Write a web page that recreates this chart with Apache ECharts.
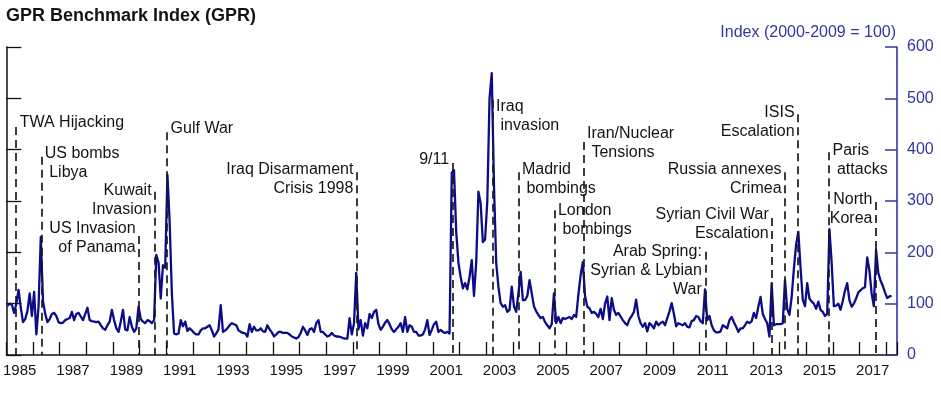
<!DOCTYPE html>
<html>
<head>
<meta charset="utf-8">
<script src="https://cdn.jsdelivr.net/npm/echarts@6/dist/echarts.min.js"></script>
<style>html,body{margin:0;padding:0;background:#fff}#c{width:941px;height:393px}</style>
</head>
<body>
<div id="c"></div>
<script>
// ---- data ----
const startYear = 1985;
// monthly GPR index, Jan 1985 onward
const gprValues = [
  96, 100, 98, 82, 100, 127, 92, 64, 70, 86, 120, 76,      // 1985
  123, 40, 95, 230, 105, 80, 64, 70, 80, 82, 76, 64,       // 1986
  62, 63, 68, 70, 72, 84, 68, 80, 82, 75, 68, 80,          // 1987
  92, 68, 66, 65, 64, 65, 58, 52, 49, 58, 65, 88,          // 1988
  68, 52, 45, 65, 88, 50, 48, 74, 55, 45, 52, 94,          // 1989
  70, 65, 62, 68, 66, 62, 68, 195, 180, 110, 175, 170,     // 1990
  351, 260, 120, 42, 40, 42, 68, 56, 65, 47, 52, 48,       // 1991
  43, 40, 40, 48, 52, 52, 55, 58, 48, 36, 42, 50,          // 1992
  97, 45, 48, 52, 58, 62, 60, 58, 48, 45, 43, 42,          // 1993
  36, 60, 45, 55, 48, 48, 52, 46, 45, 58, 50, 44,          // 1994
  36, 40, 45, 45, 43, 43, 43, 40, 36, 34, 32, 35,          // 1995
  43, 55, 48, 39, 50, 52, 45, 62, 68, 45, 45, 40,          // 1996
  36, 38, 43, 38, 36, 36, 35, 33, 32, 32, 72, 40,          // 1997
  62, 160, 50, 68, 38, 62, 52, 80, 72, 84, 88, 60,         // 1998
  49, 55, 63, 68, 60, 50, 45, 50, 55, 62, 45, 74,          // 1999
  45, 58, 55, 45, 45, 38, 38, 40, 50, 68, 39, 49,          // 2000
  60, 65, 45, 49, 45, 43, 45, 42, 355, 360, 240, 180,      // 2001
  152, 130, 140, 128, 152, 185, 115, 180, 318, 295, 220, 225, // 2002
  300, 500, 549, 330, 180, 133, 101, 94, 97, 84, 88, 133,  // 2003
  95, 84, 120, 162, 107, 107, 115, 146, 120, 95, 85, 78,   // 2004
  72, 74, 64, 58, 52, 60, 120, 62, 74, 62, 72, 70,         // 2005
  72, 74, 70, 78, 74, 118, 155, 181, 115, 94, 91, 82,      // 2006
  84, 80, 74, 90, 70, 100, 114, 68, 111, 88, 78, 82,       // 2007
  75, 68, 62, 58, 70, 76, 84, 108, 76, 62, 55, 62,         // 2008
  46, 62, 58, 52, 65, 58, 62, 65, 58, 72, 85, 101,         // 2009
  80, 56, 62, 60, 58, 62, 55, 54, 66, 68, 76, 74,          // 2010
  66, 62, 128, 68, 76, 58, 48, 44, 44, 46, 58, 55,         // 2011
  52, 68, 74, 64, 55, 45, 52, 52, 58, 65, 62, 66,          // 2012
  82, 72, 94, 113, 80, 70, 62, 36, 140, 58, 60, 60,        // 2013
  60, 62, 146, 90, 78, 113, 168, 215, 240, 170, 108, 95,   // 2014
  140, 110, 104, 100, 90, 104, 88, 84, 76, 80, 245, 180,   // 2015
  95, 96, 100, 88, 105, 125, 140, 107, 94, 100, 110, 122,  // 2016
  126, 130, 132, 190, 165, 120, 95, 205, 160, 145, 135, 122, // 2017
  111, 114, 115                                            // 2018
];
const tickYears = [1985, 1987, 1989, 1991, 1993, 1995, 1997, 1999, 2001, 2003, 2005, 2007, 2009, 2011, 2013, 2015, 2017];
const yTicks = [0, 100, 200, 300, 400, 500, 600];

const eventLabels = [
  'TWA Hijacking', 'US bombs\n Libya', 'US Invasion\nof Panama', 'Kuwait\nInvasion', 'Gulf War',
  'Iraq Disarmament\nCrisis 1998', '9/11', 'Iraq\n invasion', 'Madrid\n bombings', 'London\n bombings',
  'Iran/Nuclear\n Tensions', 'Arab Spring:\nSyrian & Lybian\nWar', 'Syrian Civil War\nEscalation',
  'Russia annexes\nCrimea', 'ISIS\nEscalation', 'Paris\n attacks', 'North\nKorea'
];
const eventDates = [1985.37, 1986.31, 1989.98, 1990.58, 1991.03, 1998.15, 2001.74, 2003.24, 2004.21, 2005.56,
  2006.65, 2011.22, 2013.73, 2014.21, 2014.70, 2015.86, 2017.62];
const eventTextLevels = [452, 393, 247, 321, 442, 362, 380, 483, 362, 282, 432, 201, 273, 362, 473, 399, 302];
const eventLineTops = [444, 386, 232, 318, 434, 356, 374, 497, 356, 282, 415, 201, 267, 356, 469, 395, 298];
const eventSides = ['right', 'right', 'left', 'left', 'right', 'left', 'left', 'right', 'right', 'right',
  'right', 'left', 'left', 'left', 'left', 'right', 'left'];

// ---- chart ----
const FONT = '"Liberation Sans", Arial, Helvetica, sans-serif';
const BLUE = '#3434a4';
const LINE = '#0c0c88';
const INK = '#141414';
const xMin = 1985, xMax = 2018.41;

const lineData = gprValues.map((v, i) => [startYear + (i + 0.5) / 12, v]);
const eventPoints = eventLabels.map((t, i) => ({
  name: t,
  value: [eventDates[i], eventTextLevels[i]],
  label: { position: eventSides[i] }
}));
const eventLines = eventDates.map((d, i) => [
  { coord: [d, eventLineTops[i]] },
  { coord: [d, 0] }
]);

const chart = echarts.init(document.getElementById('c'), null, { renderer: 'canvas' });
chart.setOption({
  animation: false,
  textStyle: { fontFamily: FONT },
  title: {
    text: 'GPR Benchmark Index (GPR)', left: 1, top: 2,
    textStyle: { fontSize: 18, fontWeight: 'bold', color: INK, fontFamily: FONT }
  },
  grid: { left: 5, right: 44, top: 47, bottom: 38, containLabel: false },
  xAxis: [
    {
      type: 'value', min: xMin, max: xMax, interval: 1, position: 'bottom',
      axisLine: { show: true, onZero: false, lineStyle: { color: '#111', width: 1.5 } },
      axisTick: { show: true, inside: true, length: 13, lineStyle: { color: '#111', width: 1.3 } },
      axisLabel: { show: false }, splitLine: { show: false }
    },
    {
      // half-year positions used only for labels centred on each year
      type: 'value', min: 0, max: (xMax - xMin) * 2, interval: 1, position: 'bottom',
      axisLine: { show: false }, axisTick: { show: false }, splitLine: { show: false },
      axisLabel: {
        show: true, margin: 8, fontSize: 15, color: INK, fontFamily: FONT,
        formatter: v => {
          if (Math.abs(v - Math.round(v)) > 1e-6 || Math.round(v) % 2 !== 1) return '';
          const y = startYear + (Math.round(v) - 1) / 2;
          return tickYears.indexOf(y) >= 0 ? String(y) : '';
        }
      }
    }
  ],
  yAxis: [
    {
      type: 'value', position: 'left', min: yTicks[0], max: yTicks[yTicks.length - 1], interval: 100,
      axisLine: { show: true, onZero: false, lineStyle: { color: '#111', width: 1.5 } },
      axisTick: { show: true, inside: true, length: 15, lineStyle: { color: '#111', width: 1.3 } },
      axisLabel: { show: false }, splitLine: { show: false }
    },
    {
      type: 'value', position: 'right', min: yTicks[0], max: yTicks[yTicks.length - 1], interval: 100,
      name: 'Index (2000-2009 = 100)', nameLocation: 'end', nameGap: 6,
      nameTextStyle: { align: 'right', verticalAlign: 'bottom', fontSize: 16, color: BLUE, fontFamily: FONT, padding: [0, 1, 0, 0] },
      axisLine: { show: true, onZero: false, lineStyle: { color: BLUE, width: 1.6 } },
      axisTick: { show: true, inside: true, length: 12, lineStyle: { color: BLUE, width: 1.5 } },
      axisLabel: { show: true, color: BLUE, fontSize: 16, margin: 10, fontFamily: FONT },
      splitLine: { show: false }
    }
  ],
  series: [
    {
      type: 'line', name: 'GPR', xAxisIndex: 0, yAxisIndex: 1, data: lineData,
      showSymbol: false, symbol: 'none', smooth: false, z: 2,
      lineStyle: { color: LINE, width: 2.3, join: 'round' }
    },
    {
      type: 'scatter', name: 'events', xAxisIndex: 0, yAxisIndex: 1, data: eventPoints,
      symbol: 'circle', symbolSize: 1, itemStyle: { color: 'rgba(0,0,0,0)', opacity: 1 }, z: 5, silent: true,
      label: {
        show: true, formatter: p => p.name, fontSize: 16, lineHeight: 19, color: INK, opacity: 1,
        fontFamily: FONT, distance: 3, verticalAlign: 'top', offset: [0, -9.5]
      },
      markLine: {
        silent: true, symbol: ['none', 'none'], animation: false,
        label: { show: false },
        lineStyle: { type: [8, 5], color: '#1a1a1a', width: 1.7, opacity: 1 },
        emphasis: { disabled: true },
        data: eventLines
      }
    }
  ]
});
</script>
</body>
</html>
